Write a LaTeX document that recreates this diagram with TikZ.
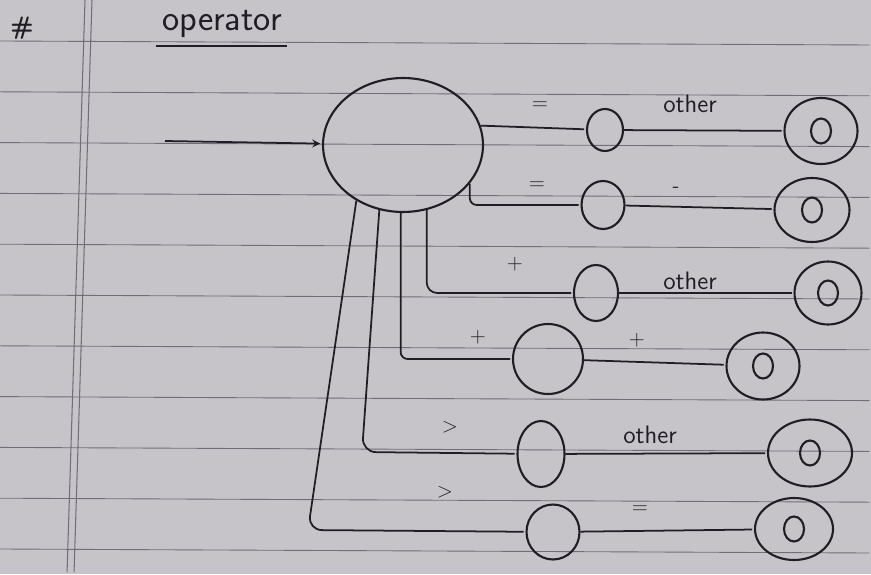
\documentclass[tikz,border=0pt]{standalone}
\usepackage{tikz}
\usetikzlibrary{arrows,automata,shapes}

\definecolor{paper}{RGB}{198,196,200}
\definecolor{ruling}{RGB}{112,110,118}
\definecolor{pen}{RGB}{32,30,36}

\begin{document}
\begin{tikzpicture}[
            x = 0.02cm, y = -0.02cm, % one unit per pixel
            > = stealth, % arrow head style
            shorten > = 1pt, % don't touch arrow head to node
            auto,
            line width = 1pt, % line style
            color = pen,
            font = \sffamily\Large
        ]

        \tikzstyle{every state}=[
            draw = pen,
            line width = 1.2pt,
            ellipse,
            inner sep = 0pt,
            fill = none
        ]
        \tikzstyle{core}=[
            draw = pen,
            line width = 1.2pt,
            ellipse,
            minimum width = 0.4cm,
            minimum height = 0.5cm
        ]
        \tikzstyle{sym}=[font = \sffamily\large]

        % the ruled page
        \useasboundingbox (0,0) rectangle (871,574);
        \fill[paper] (0,0) rectangle (871,574);
        \foreach \i in {0,...,10}
            \draw[ruling, line width = 0.5pt] (0,{41+50.8*\i}) -- (871,{45+50.8*\i});
        \draw[ruling, line width = 0.6pt] (85,0) -- (67,574);
        \draw[ruling, line width = 0.6pt] (92,0) -- (74,574);

        % heading
        \node[font = \sffamily\bfseries\Large] (hash) at (22,28) {\#};
        \node[font = \sffamily\huge] (title) at (222,24) {operator};
        \draw ([yshift=-1pt]title.south west) -- ([yshift=-1pt]title.south east);

        % states
        \coordinate (start) at (165,141);
        \node[state, minimum width = 3.2cm, minimum height = 2.68cm] (s) at (403,145) {};

        \node[state, minimum width = 0.72cm, minimum height = 0.84cm] (q1) at (605,130) {};
        \node[state, minimum width = 0.86cm, minimum height = 0.96cm] (q2) at (603,205) {};
        \node[state, minimum width = 0.88cm, minimum height = 1.12cm] (q3) at (596,293) {};
        \node[state, minimum width = 1.4cm, minimum height = 1.4cm] (q4) at (548,359) {};
        \node[state, minimum width = 0.94cm, minimum height = 1.32cm] (q5) at (541,454) {};
        \node[state, minimum width = 1.06cm, minimum height = 1.1cm] (q6) at (553,532) {};

        \node[state, minimum width = 1.46cm, minimum height = 1.32cm] (f1) at (821,131) {};
        \node[state, minimum width = 1.5cm, minimum height = 1.28cm] (f2) at (812,210) {};
        \node[state, minimum width = 1.34cm, minimum height = 1.26cm] (f3) at (828,293) {};
        \node[state, minimum width = 1.46cm, minimum height = 1.34cm] (f4) at (763,366) {};
        \node[state, minimum width = 1.68cm, minimum height = 1.34cm] (f5) at (810,453) {};
        \node[state, minimum width = 1.56cm, minimum height = 1.24cm] (f6) at (794,529) {};

        \node[core] (c1) at (f1) {};
        \node[core] (c2) at (f2) {};
        \node[core] (c3) at (f3) {};
        \node[core] (c4) at (f4) {};
        \node[core] (c5) at (f5) {};
        \node[core] (c6) at (f6) {};

        \coordinate (b5) at (362,452);
        \coordinate (b6) at (308,530);

        % transitions
        \draw[->] (start) -- (s);
        \draw (s.14) -- (q1);
        \draw[rounded corners=4pt] (s.-30) |- (q2);
        \draw[rounded corners=6pt] (s.-70) |- (q3);
        \draw[rounded corners=4pt] (s.-92) |- (q4);
        \draw[rounded corners=8pt] (s.-110) -- (b5) -- (q5);
        \draw[rounded corners=8pt] (s.-130) -- (b6) -- (q6);

        \draw (q1) -- (f1);
        \draw (q2) -- (f2);
        \draw (q3) -- (f3);
        \draw (q4) -- (f4);
        \draw (q5) -- (f5);
        \draw (q6) -- (f6);

        % labels
        \node[sym] (e1) at (540,106) {=};
        \node[sym] (e2) at (537,186) {=};
        \node[sym] (p3) at (515,264) {+};
        \node[sym] (p4) at (478,337) {+};
        \node[sym] (g5) at (450,427) {>};
        \node[sym] (g6) at (445,492) {>};

        \node (o1) at (690,104) {other};
        \node[sym] (m2) at (676,190) {-};
        \node (o3) at (690,281) {other};
        \node[sym] (p4b) at (637,340) {+};
        \node (o5) at (650,435) {other};
        \node[sym] (e6) at (640,510) {=};

    \end{tikzpicture}
\end{document}
